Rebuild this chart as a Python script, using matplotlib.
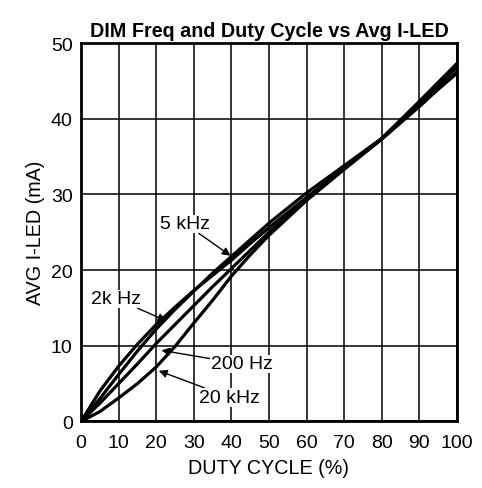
import matplotlib.pyplot as plt

plt.rcParams['font.family'] = ['Liberation Sans', 'DejaVu Sans']

# Duty cycle (%) and average LED current (mA) for each dimming frequency
duty = [0, 5, 10, 15, 20, 25, 30, 35, 40, 45, 50, 60, 70, 80, 90, 100]
i_2khz = [0, 4.0, 7.3, 10.2, 12.8, 15.1, 17.3, 19.3, 21.3, 23.5, 25.6, 29.6, 33.5, 37.3, 41.6, 46.2]
i_5khz = [0, 3.0, 6.2, 9.3, 12.2, 14.8, 17.2, 19.6, 21.8, 24.0, 26.2, 30.2, 33.8, 37.4, 42.0, 46.8]
i_200hz = [0, 2.4, 5.0, 7.6, 10.3, 12.8, 15.3, 17.8, 20.2, 22.6, 25.0, 29.5, 33.4, 37.4, 42.3, 47.3]
i_20khz = [0, 1.3, 3.1, 5.0, 7.2, 9.9, 13.0, 16.0, 19.2, 22.0, 24.6, 29.2, 33.3, 37.3, 41.8, 46.0]

x_ticks = [0, 10, 20, 30, 40, 50, 60, 70, 80, 90, 100]
y_ticks = [0, 10, 20, 30, 40, 50]

fig = plt.figure(figsize=(4.82, 4.89), dpi=100)
ax = fig.add_axes([0.168, 0.136, 0.78, 0.774])

for series in [i_2khz, i_5khz, i_200hz, i_20khz]:
    ax.plot(duty, series, color='black', lw=2.3, solid_capstyle='round',
            solid_joinstyle='round', zorder=3)

ax.set_xlim(0, 100)
ax.set_ylim(0, 50)
ax.set_xticks(x_ticks)
ax.set_yticks(y_ticks)
ax.tick_params(length=0, labelsize=14)
ax.tick_params(axis='x', pad=9)
ax.tick_params(axis='y', pad=6)
ax.grid(True, color='black', lw=1.1)
for s in ax.spines.values():
    s.set_linewidth(2.0)

ax.set_title('DIM Freq and Duty Cycle vs Avg I-LED', fontsize=14.2,
             fontweight='bold', pad=5)
ax.set_xlabel('DUTY CYCLE (%)', fontsize=14.2, labelpad=5)
ax.set_ylabel('AVG I-LED (mA)', fontsize=14.2, labelpad=4)

arrow = dict(arrowstyle='-|>', color='black', lw=1.0, mutation_scale=12,
             shrinkA=0, shrinkB=0)
box = dict(fc='white', ec='none', pad=0.5)
ax.annotate('5 kHz', xy=(39.8, 21.9), xytext=(27.8, 26.1), fontsize=14,
            ha='center', va='center', arrowprops=arrow, bbox=box)
ax.annotate('2k Hz', xy=(22.7, 13.3), xytext=(9.4, 16.2), fontsize=14,
            ha='center', va='center', arrowprops=arrow, bbox=box)
ax.annotate('200 Hz', xy=(21.4, 9.4), xytext=(42.7, 7.6), fontsize=14,
            ha='center', va='center', arrowprops=arrow, bbox=box)
ax.annotate('20 kHz', xy=(20.7, 6.7), xytext=(39.5, 3.2), fontsize=14,
            ha='center', va='center', arrowprops=arrow, bbox=box)

fig.savefig('out.png', dpi=100)
